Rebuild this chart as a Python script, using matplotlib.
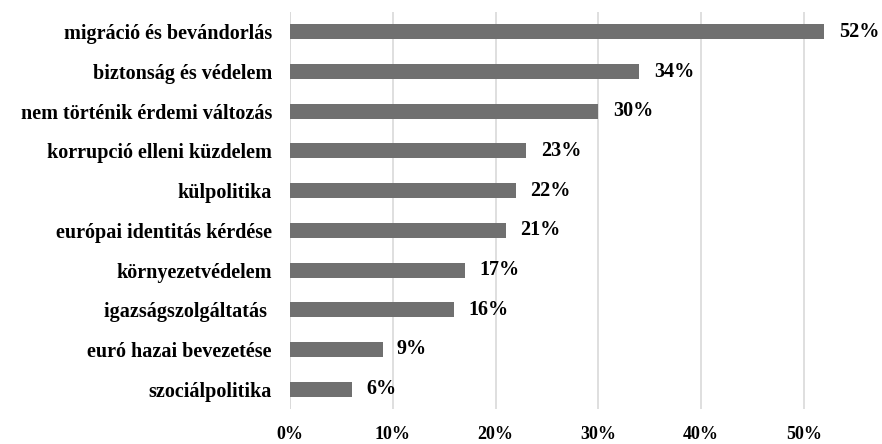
import matplotlib
matplotlib.use("Agg")
import matplotlib.pyplot as plt
from matplotlib.ticker import FuncFormatter

categories = ["migráció és bevándorlás", "biztonság és védelem", "nem történik érdemi változás",
              "korrupció elleni küzdelem", "külpolitika", "európai identitás kérdése",
              "környezetvédelem", "igazságszolgáltatás ", "euró hazai bevezetése", "szociálpolitika"]
values = [0.52, 0.34, 0.30, 0.23, 0.22, 0.21, 0.17, 0.16, 0.09, 0.06]
ticks = [0, 0.1, 0.2, 0.3, 0.4, 0.5]

plt.rcParams['font.family'] = ['Liberation Serif', 'DejaVu Serif']
fig = plt.figure(figsize=(8.82, 4.44), dpi=100)
ax = fig.add_axes([290/882, 1-409/444, (881-290)/882, (409-12)/444])

y = list(range(len(categories)))
ax.barh(y, values, height=0.38, color="#707070", zorder=3)
ax.set_ylim(len(categories)-0.5, -0.5)
ax.set_xlim(0, 0.575)
ax.set_xticks(ticks)
ax.xaxis.set_major_formatter(FuncFormatter(lambda v, p: f"{v*100:.0f}%"))
ax.set_yticks(y)
ax.set_yticklabels(categories, fontsize=14.5, fontweight='bold')
for lab in ax.get_xticklabels():
    lab.set_fontsize(13)
    lab.set_fontweight('bold')
ax.tick_params(axis='both', length=0)
ax.tick_params(axis='x', pad=12)
ax.tick_params(axis='y', pad=13)
ax.grid(axis='x', color="#d9d9d9", linewidth=1.2, zorder=0)
for s in ax.spines.values():
    s.set_visible(False)
ax.axvline(0, color="#d9d9d9", linewidth=1.2, zorder=1)

for yi, v in zip(y, values):
    ax.text(v + 0.014, yi, f"{v*100:.0f}%", va='center', ha='left', fontsize=14.5, fontweight='bold')

fig.savefig("out.png", dpi=100)
